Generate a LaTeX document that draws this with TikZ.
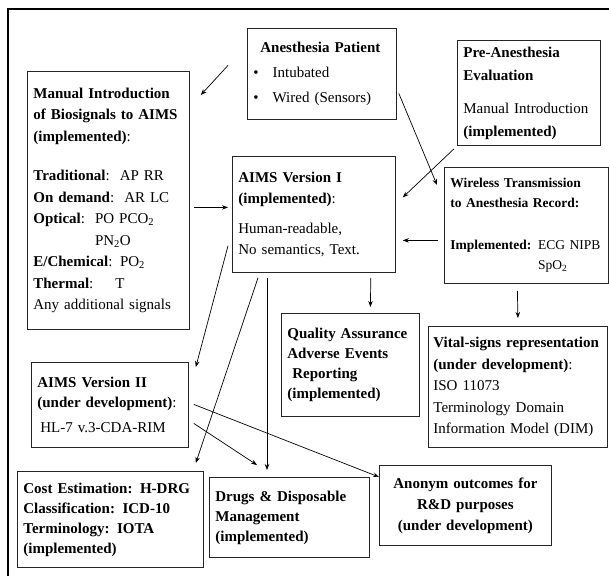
\documentclass[tikz,border=0pt]{standalone}
\usepackage{fontspec}
\setmainfont{Liberation Serif}
\usetikzlibrary{arrows.meta,calc}

\begin{document}
\begin{tikzpicture}[x=1pt,y=-1pt,
  box/.style={draw=black!85, line width=0.8pt, anchor=north west, align=left,
    inner xsep=6pt, inner ysep=2pt, font=\fontsize{15}{20}\selectfont},
  link/.style={black, line width=0.7pt, -{Stealth[length=6pt,width=4.5pt]}}]
\useasboundingbox (0,0) rectangle (609,576);
% frame
\draw[line width=2.5pt] (8,576) -- (8,9) -- (609,9);
%
\node[box, text width=137pt, minimum height=91pt, font=\fontsize{15}{25}\selectfont] (patient) at (247,28)
  {\hspace*{7pt}\textbf{Anesthesia Patient}\\ \textbullet\hspace{14pt}Intubated\\ \textbullet\hspace{14pt}Wired (Sensors)};
\node[box, text width=131pt, minimum height=105pt, font=\fontsize{15}{23}\selectfont] (pre) at (457,40)
  {\textbf{Pre-Anesthesia}\\ \textbf{Evaluation}\\[10pt] Manual Introduction\\ \textbf{(implemented)}};
\node[box, text width=150pt, minimum height=258pt, font=\fontsize{15}{21.5}\selectfont] (manual) at (27,71)
  {\textbf{Manual Introduction}\\ \textbf{of Biosignals to AIMS}\\ \textbf{(implemented)}:\\[18pt]
   \textbf{Traditional}:\ \ AP RR\\ \textbf{On demand}:\ \ AR LC\\
   \textbf{Optical}:\ \ PO PCO\textsubscript{2}\\ \hphantom{\textbf{Optical}:\ \ }PN\textsubscript{2}O\\
   \textbf{E/Chemical}: PO\textsubscript{2}\\ \textbf{Thermal}:\hspace{22pt}T\\ Any additional signals};
\node[box, text width=151pt, minimum height=116pt, font=\fontsize{15}{21}\selectfont] (aimsI) at (232,156)
  {\textbf{AIMS Version I}\\ \textbf{(implemented)}:\\[9pt] Human-readable,\\ No semantics, Text.};
\node[box, text width=152pt, minimum height=116pt, font=\fontsize{13.5}{20}\selectfont] (wireless) at (444,167)
  {\textbf{Wireless Transmission}\\ \textbf{to Anesthesia Record:}\\[22pt]
   \textbf{Implemented:} ECG NIPB\\ \hphantom{\textbf{Implemented:} }SpO\textsubscript{2}};
\node[box, text width=126pt, minimum height=103pt, font=\fontsize{15}{20}\selectfont] (quality) at (281,313)
  {\textbf{Quality Assurance}\\ \textbf{Adverse Events}\\ \textbf{\ Reporting}\\ \textbf{(implemented)}};
\node[box, inner xsep=5pt, text width=169pt, minimum height=121pt, font=\fontsize{15}{21.5}\selectfont] (vital) at (428,326)
  {\textbf{Vital-signs representation}\\ \textbf{(under development)}:\\ ISO 11073\\ Terminology Domain\\ Information Model (DIM)};
\node[box, text width=145pt, minimum height=85pt] (aimsII) at (31,362)
  {\textbf{AIMS Version II}\\ \textbf{(under development)}:\\[5pt] \hspace*{3pt}HL-7 v.3-CDA-RIM};
\node[box, text width=174pt, minimum height=96pt, font=\fontsize{15}{20}\selectfont] (cost) at (17,471)
  {\textbf{Cost Estimation: H-DRG}\\ \textbf{Classification: ICD-10}\\ \textbf{Terminology: IOTA}\\ \textbf{(implemented)}};
\node[box, text width=148pt, minimum height=80pt] (drugs) at (209,477)
  {\textbf{Drugs \& Disposable}\\ \textbf{Management}\\ \textbf{(implemented)}};
\node[box, align=center, text width=160pt, minimum height=80pt, font=\fontsize{15}{21}\selectfont] (anonym) at (379,465)
  {\textbf{Anonym outcomes for}\\ \textbf{R\&D purposes}\\ \textbf{(under development)}};
%
\draw[link] ($(patient.west)+(-19,-8.5)$) -- ($(manual.north east)+(11,24)$);
\draw[link] ($(manual.east)+(4,7)$) -- ($(aimsI.west)+(-4,-7)$);
\draw[link] ($(patient.east)+(2,19.5)$) -- ($(wireless.north west)+(-7,18)$);
\draw[link] ($(pre.south west)+(-3,3)$) -- ($(aimsI.east)+(7,-17)$);
\draw[link] ($(wireless.west)+(-6,15)$) -- ($(aimsI.east)+(7,26)$);
\draw[link] ($(aimsI.south east)+(-25,5)$) -- ($(quality.north)+(20,-6)$);
\draw[link] ($(wireless.south)+(-9,7)$) -- ($(vital.north)+(0,-8)$);
\draw[link] ($(aimsI.south west)+(-4,-27)$) -- ($(aimsII.north east)+(7,5)$);
\draw[link] ($(aimsI.south west)+(26,5)$) -- ($(cost.north east)+(-8,-8)$);
\draw[link] ($(aimsI.south west)+(35,5)$) -- ($(drugs.north west)+(58,-7)$);
\draw[link] ($(aimsII.east)+(5,18.5)$) -- ($(drugs.north west)+(48,-12)$);
\draw[link] ($(aimsII.east)+(5,-0.5)$) -- ($(anonym.north west)+(0,12)$);
\end{tikzpicture}
\end{document}
